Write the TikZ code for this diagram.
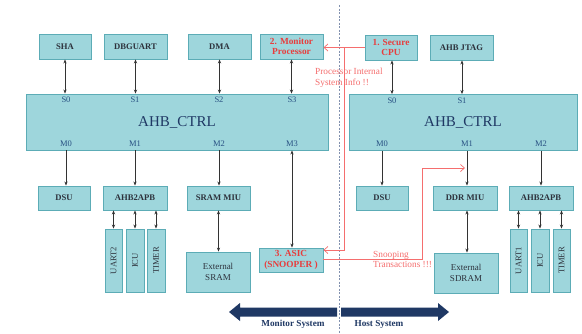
\documentclass[tikz,border=0pt]{standalone}
\usepackage{fontspec}
\setmainfont{Liberation Serif}
\usetikzlibrary{arrows.meta,calc}

\definecolor{boxfill}{RGB}{158,214,220}
\definecolor{boxline}{RGB}{92,172,182}
\definecolor{navy}{RGB}{31,56,100}
\definecolor{porttxt}{RGB}{40,80,130}
\definecolor{boxtxt}{RGB}{45,50,60}
\definecolor{redtxt}{RGB}{232,60,60}
\definecolor{redline}{RGB}{245,110,110}
\definecolor{divider}{RGB}{130,145,175}

\tikzset{
  blk/.style={draw=boxline, line width=0.9pt, fill=boxfill, inner sep=0pt,
    font=\bfseries\fontsize{8.6}{10}\selectfont, text=boxtxt, align=center},
  redblk/.style={blk, text=redtxt, font=\bfseries\fontsize{9.3}{10.5}\selectfont},
  vlabel/.style={font=\fontsize{8.6}{10}\selectfont, text=boxtxt, rotate=90, inner sep=0pt},
  twoline/.style={blk, font=\fontsize{9}{10.5}\selectfont},
  ctrl/.style={draw=boxline, line width=0.9pt, fill=boxfill, inner sep=0pt,
    font=\fontsize{15}{17}\selectfont, text=navy},
  port/.style={font=\fontsize{8.5}{10}\selectfont, text=porttxt, inner sep=0pt},
  bus/.style={draw=black!80, line width=0.6pt, {Stealth[length=4pt,width=3.2pt]}-{Stealth[length=4pt,width=3.2pt]}},
  down/.style={draw=black!80, line width=0.6pt, -{Stealth[length=4pt,width=3.2pt]}},
  snoop/.style={draw=redline, line width=0.7pt},
  snooparrow/.style={snoop, -{Straight Barb[length=4pt,width=7pt]}},
  note/.style={font=\fontsize{9.3}{10.5}\selectfont, text=redline, align=left, inner sep=0pt, anchor=west},
  sysarrow/.style={fill=navy, draw=none},
  syslabel/.style={font=\bfseries\fontsize{9.2}{10}\selectfont, text=navy, inner sep=0pt}
}

\begin{document}
\begin{tikzpicture}[x=1pt,y=-1pt]
\useasboundingbox (0,0) rectangle (582,333);
\fill[white] (0,0) rectangle (582,333);

% dividing line between the two systems
\draw[divider, line width=0.8pt, dash pattern=on 2pt off 1.5pt] (339,5) -- (339,333);

% top row
\node[blk, minimum width=52pt, minimum height=25pt] (sha)  at (65,46.5) {SHA};
\node[blk, minimum width=63pt, minimum height=25pt] (dbg)  at (135.5,46.5) {DBGUART};
\node[blk, minimum width=63pt, minimum height=25pt] (dma)  at (219.5,46.5) {DMA};
\node[redblk, minimum width=63pt, minimum height=25pt] (mon) at (291.5,46.5) {2. Monitor\\Processor};
\node[redblk, minimum width=52pt, minimum height=25pt] (cpu) at (391,47.5) {1. Secure\\CPU};
\node[blk, minimum width=63pt, minimum height=25pt] (jtag) at (461.5,47.5) {AHB JTAG};

% bus controllers
\node[ctrl, minimum width=302pt, minimum height=56pt] (ahbL) at (177,122) {AHB\_CTRL};
\node[ctrl, minimum width=228pt, minimum height=56pt] (ahbR) at (463,122.5) {AHB\_CTRL};

\node[port] (ls0) at (66,100) {S0};
\node[port] (ls1) at (135,100) {S1};
\node[port] (ls2) at (219,100) {S2};
\node[port] (ls3) at (292,100) {S3};
\node[port] (lm0) at (66,144) {M0};
\node[port] (lm1) at (135,144) {M1};
\node[port] (lm2) at (219,144) {M2};
\node[port] (lm3) at (292,144) {M3};
\node[port] (rs0) at (392,101) {S0};
\node[port] (rs1) at (462,101) {S1};
\node[port] (rm0) at (382,144) {M0};
\node[port] (rm1) at (467,144) {M1};
\node[port] (rm2) at (541,144) {M2};

% bottom row, monitor side
\node[blk, minimum width=52pt, minimum height=24pt] (dsuL)  at (64,198) {DSU};
\node[blk, minimum width=64pt, minimum height=24pt] (apbL)  at (135,198) {AHB2APB};
\node[blk, minimum width=63pt, minimum height=24pt] (smiu)  at (218.5,198) {SRAM MIU};
\node[blk, minimum width=17pt, minimum height=63pt] (uart2) at (113.5,260.5) {};
\node[blk, minimum width=18pt, minimum height=63pt] (icuL)  at (135,260.5) {};
\node[blk, minimum width=18pt, minimum height=63pt] (timL)  at (156,260.5) {};
\node[vlabel] at (uart2) {UART2};
\node[vlabel] at (icuL) {ICU};
\node[vlabel] at (timL) {TIMER};
\node[twoline, minimum width=64pt, minimum height=40pt] (xsram) at (218,272) {External\\SRAM};
\node[redblk, minimum width=64pt, minimum height=24pt] (asic) at (291,260) {3. ASIC\\(SNOOPER )};

% bottom row, host side
\node[blk, minimum width=52pt, minimum height=24pt] (dsuR)  at (382,198) {DSU};
\node[blk, minimum width=64pt, minimum height=24pt] (ddr)   at (465,198) {DDR MIU};
\node[blk, minimum width=64pt, minimum height=24pt] (apbR)  at (541,198) {AHB2APB};
\node[twoline, minimum width=64pt, minimum height=40pt] (xsdram) at (466,273) {External\\SDRAM};
\node[blk, minimum width=17pt, minimum height=63pt] (uart1) at (518.5,260.5) {};
\node[blk, minimum width=18pt, minimum height=63pt] (icuR)  at (540,260.5) {};
\node[blk, minimum width=17pt, minimum height=63pt] (timR)  at (561.5,260.5) {};
\node[vlabel] at (uart1) {UART1};
\node[vlabel] at (icuR) {ICU};
\node[vlabel] at (timR) {TIMER};

% slave ports
\draw[bus] (sha.south)  -- (sha.south |- ahbL.north);
\draw[bus] (dbg.south)  -- (dbg.south |- ahbL.north);
\draw[bus] (dma.south)  -- (dma.south |- ahbL.north);
\draw[bus] (mon.south)  -- (mon.south |- ahbL.north);
\draw[bus] (cpu.south -| rs0) -- (rs0 |- ahbR.north);
\draw[bus] (jtag.south -| rs1) -- (rs1 |- ahbR.north);

% master ports
\draw[down] (lm0 |- ahbL.south) -- (lm0 |- dsuL.north);
\draw[down] (apbL.north |- ahbL.south) -- (apbL.north);
\draw[down] (lm2 |- ahbL.south) -- (lm2 |- smiu.north);
\draw[bus]  (lm3 |- ahbL.south) -- (lm3 |- asic.north);
\draw[down] (dsuR.north |- ahbR.south) -- (dsuR.north);
\draw[down] (rm1 |- ahbR.south) -- (rm1 |- ddr.north);
\draw[down] (apbR.north |- ahbR.south) -- (apbR.north);

% peripheral buses
\draw[bus] (uart2.north) -- (uart2.north |- apbL.south);
\draw[bus] (icuL.north)  -- (icuL.north |- apbL.south);
\draw[bus] (timL.north)  -- (timL.north |- apbL.south);
\draw[bus] (uart1.north) -- (uart1.north |- apbR.south);
\draw[bus] (icuR.north)  -- (icuR.north |- apbR.south);
\draw[bus] (timR.north)  -- (timR.north |- apbR.south);
\draw[bus] (smiu.south)  -- (smiu.south |- xsram.north);
\draw[bus] (rm1 |- ddr.south) -- (rm1 |- xsdram.north);

% snooping paths
\coordinate (split) at (344,47.5);
\coordinate (drop)  at (344,250);
\coordinate (asicin) at (asic.east |- drop);
\coordinate (asicout) at ($(asic.east)+(0,-1)$);
\coordinate (turn1) at (422,259);
\coordinate (turn2) at (422,168);
\coordinate (tap)   at (465,168);
\draw[snoop] (cpu.west) -- (split);
\draw[snooparrow] (split) -- (mon.east |- split);
\draw[snooparrow] (split) -- (drop) -- (asicin);
\draw[snooparrow] (asicout) -- (turn1) -- (turn2) -- (tap);

\node[note] (info)  at (315,78) {Processor Internal\\System Info !!};
\node[note] (trans) at (373,259.5) {Snooping\\Transactions !!!};

% system extent arrows
\coordinate (lt) at (229,312);
\coordinate (rt) at (449,312);
\fill[sysarrow] (lt) -- ++(11,-9) -- ++(0,4.5) -- (337,307.5) -- (337,316.5) -- (240,316.5) -- ++(0,4.5) -- cycle;
\fill[sysarrow] (rt) -- ++(-11,-9) -- ++(0,4.5) -- (341,307.5) -- (341,316.5) -- (438,316.5) -- ++(0,4.5) -- cycle;
\node[syslabel] (monsys)  at (293,324) {Monitor System};
\node[syslabel] (hostsys) at (379,324) {Host System};
\end{tikzpicture}
\end{document}
